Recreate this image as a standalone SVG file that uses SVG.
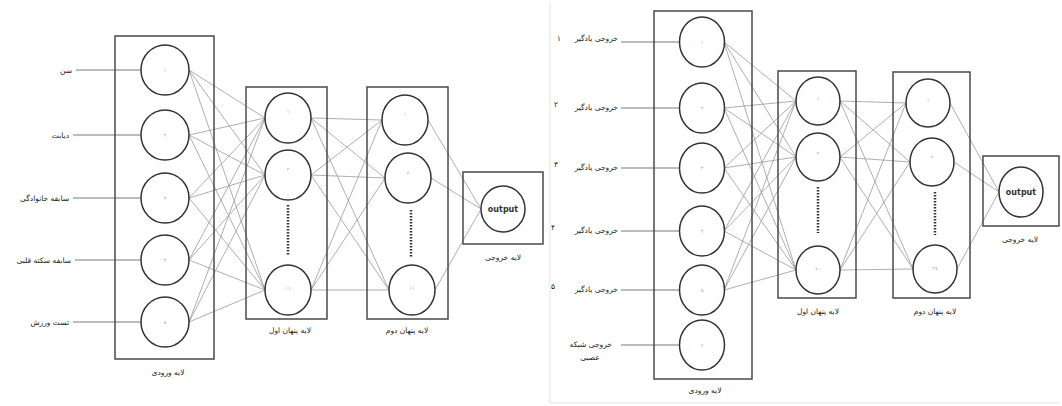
<svg xmlns="http://www.w3.org/2000/svg" width="1062" height="406" viewBox="0 0 1062 406">
<style>
.bg{fill:#ffffff}
.box{fill:none;stroke:#4a4a4a;stroke-width:1.5}
.node{fill:#ffffff;stroke:#333333;stroke-width:1.5}
.c line{stroke:#9a9a9a;stroke-width:0.8}
.in{stroke:#555555;stroke-width:0.8}
.dots{stroke:#333333;stroke-width:2.5;stroke-dasharray:1.5 1.5}
.lbl{font-family:"DejaVu Sans",sans-serif;font-size:7.5px;fill:#222222}
.cap{font-family:"DejaVu Sans",sans-serif;font-size:7.5px;fill:#222222;text-anchor:middle}
.num{font-family:"DejaVu Sans",sans-serif;font-size:5px;fill:#aaaaaa;text-anchor:middle}
.out{font-family:"DejaVu Sans",sans-serif;font-size:8px;font-weight:bold;fill:#333333;text-anchor:middle}
.frame{fill:none;stroke:#e4e4e4;stroke-width:1}
</style>
<rect class="bg" x="0" y="0" width="1062" height="406"/>
<path class="frame" d="M550 4 V403 H1060"/>

<g id="connectors" class="c">
<line x1="189" y1="70" x2="265" y2="118"/><line x1="189" y1="70" x2="265" y2="175"/><line x1="189" y1="70" x2="265" y2="290"/>
<line x1="189" y1="135" x2="265" y2="118"/><line x1="189" y1="135" x2="265" y2="175"/><line x1="189" y1="135" x2="265" y2="290"/>
<line x1="189" y1="198" x2="265" y2="118"/><line x1="189" y1="198" x2="265" y2="175"/><line x1="189" y1="198" x2="265" y2="290"/>
<line x1="189" y1="260" x2="265" y2="118"/><line x1="189" y1="260" x2="265" y2="175"/><line x1="189" y1="260" x2="265" y2="290"/>
<line x1="189" y1="322" x2="265" y2="118"/><line x1="189" y1="322" x2="265" y2="175"/><line x1="189" y1="322" x2="265" y2="290"/>
<line x1="311" y1="118" x2="382" y2="120"/><line x1="311" y1="118" x2="385" y2="178"/><line x1="311" y1="118" x2="389" y2="290"/>
<line x1="311" y1="175" x2="382" y2="120"/><line x1="311" y1="175" x2="385" y2="178"/><line x1="311" y1="175" x2="389" y2="290"/>
<line x1="311" y1="290" x2="382" y2="120"/><line x1="311" y1="290" x2="385" y2="178"/><line x1="311" y1="290" x2="389" y2="290"/>
<line x1="428" y1="120" x2="481" y2="209"/><line x1="431" y1="178" x2="481" y2="209"/><line x1="435" y1="290" x2="481" y2="209"/>
<line x1="724" y1="42" x2="796" y2="101"/><line x1="724" y1="42" x2="796" y2="157"/><line x1="724" y1="42" x2="796" y2="270"/>
<line x1="724" y1="108" x2="796" y2="101"/><line x1="724" y1="108" x2="796" y2="157"/><line x1="724" y1="108" x2="796" y2="270"/>
<line x1="724" y1="168" x2="796" y2="101"/><line x1="724" y1="168" x2="796" y2="157"/><line x1="724" y1="168" x2="796" y2="270"/>
<line x1="724" y1="231" x2="796" y2="101"/><line x1="724" y1="231" x2="796" y2="157"/><line x1="724" y1="231" x2="796" y2="270"/>
<line x1="724" y1="290" x2="796" y2="101"/><line x1="724" y1="290" x2="796" y2="157"/><line x1="724" y1="290" x2="796" y2="270"/>
<line x1="840" y1="101" x2="906" y2="103"/><line x1="840" y1="101" x2="910" y2="162"/><line x1="840" y1="101" x2="913" y2="269"/>
<line x1="840" y1="157" x2="906" y2="103"/><line x1="840" y1="157" x2="910" y2="162"/><line x1="840" y1="157" x2="913" y2="269"/>
<line x1="840" y1="270" x2="906" y2="103"/><line x1="840" y1="270" x2="910" y2="162"/><line x1="840" y1="270" x2="913" y2="269"/>
<line x1="950" y1="103" x2="999" y2="192"/><line x1="954" y1="162" x2="999" y2="192"/><line x1="957" y1="269" x2="999" y2="192"/>
</g>

<g id="left-inputs">
<line class="in" x1="76" y1="70" x2="141" y2="70"/>
<line class="in" x1="73" y1="135" x2="141" y2="135"/>
<line class="in" x1="73" y1="198" x2="141" y2="198"/>
<line class="in" x1="75" y1="260" x2="141" y2="260"/>
<line class="in" x1="73" y1="322" x2="141" y2="322"/>
<text class="lbl" x="72" y="73" text-anchor="end">سن</text>
<text class="lbl" x="69" y="138" text-anchor="end">دیابت</text>
<text class="lbl" x="69" y="201" text-anchor="end">سابقه خانوادگی</text>
<text class="lbl" x="71" y="263" text-anchor="end">سابقه سکته قلبی</text>
<text class="lbl" x="69" y="325" text-anchor="end">تست ورزش</text>
</g>
<g id="left-input-layer">
<rect class="box" x="115" y="36" width="99" height="323"/>
<ellipse class="node" cx="165" cy="70" rx="24" ry="25"/><text class="num" x="165" y="72">۱</text>
<ellipse class="node" cx="165" cy="135" rx="24" ry="25"/><text class="num" x="165" y="137">۲</text>
<ellipse class="node" cx="165" cy="198" rx="24" ry="25"/><text class="num" x="165" y="200">۳</text>
<ellipse class="node" cx="165" cy="260" rx="24" ry="25"/><text class="num" x="165" y="262">۴</text>
<ellipse class="node" cx="165" cy="322" rx="24" ry="25"/><text class="num" x="165" y="324">۵</text>
<text class="cap" x="168" y="375">لایه ورودی</text>
</g>
<g id="left-hidden1">
<rect class="box" x="246" y="87" width="81" height="232"/>
<ellipse class="node" cx="288" cy="118" rx="23" ry="25"/><text class="num" x="288" y="113">۱</text>
<ellipse class="node" cx="288" cy="175" rx="23" ry="25"/><text class="num" x="288" y="171">۲</text>
<line class="dots" x1="288" y1="205" x2="288" y2="255"/>
<ellipse class="node" cx="288" cy="290" rx="23" ry="25"/><text class="num" x="288" y="290">۱۱</text>
<text class="cap" x="290" y="333">لایه پنهان اول</text>
</g>
<g id="left-hidden2">
<rect class="box" x="367" y="87" width="81" height="232"/>
<ellipse class="node" cx="405" cy="120" rx="23" ry="25"/><text class="num" x="405" y="116">۱</text>
<ellipse class="node" cx="408" cy="178" rx="23" ry="25"/><text class="num" x="408" y="175">۲</text>
<line class="dots" x1="411" y1="210" x2="411" y2="258"/>
<ellipse class="node" cx="412" cy="290" rx="23" ry="25"/><text class="num" x="412" y="290">۱۱</text>
<text class="cap" x="407" y="333">لایه پنهان دوم</text>
</g>
<g id="left-output">
<rect class="box" x="463" y="172" width="80" height="72"/>
<ellipse class="node" cx="503" cy="209" rx="22" ry="23"/>
<text class="out" x="503" y="212">output</text>
<text class="cap" x="503" y="260">لایه خروجی</text>
</g>

<g id="right-inputs">
<line class="in" x1="621" y1="42" x2="680" y2="42"/>
<line class="in" x1="621" y1="108" x2="680" y2="108"/>
<line class="in" x1="621" y1="168" x2="680" y2="168"/>
<line class="in" x1="621" y1="231" x2="680" y2="231"/>
<line class="in" x1="621" y1="290" x2="680" y2="290"/>
<line class="in" x1="621" y1="345" x2="680" y2="345"/>
<text class="lbl" x="618" y="41" text-anchor="end">خروجی یادگیر</text><text class="lbl" x="559" y="41" text-anchor="middle">۱</text>
<text class="lbl" x="618" y="110" text-anchor="end">خروجی یادگیر</text><text class="lbl" x="556" y="107" text-anchor="middle">۲</text>
<text class="lbl" x="618" y="170" text-anchor="end">خروجی یادگیر</text><text class="lbl" x="556" y="167" text-anchor="middle">۳</text>
<text class="lbl" x="618" y="233" text-anchor="end">خروجی یادگیر</text><text class="lbl" x="553" y="230" text-anchor="middle">۴</text>
<text class="lbl" x="618" y="292" text-anchor="end">خروجی یادگیر</text><text class="lbl" x="553" y="289" text-anchor="middle">۵</text>
<text class="lbl" x="612" y="347" text-anchor="end">خروجی شبکه</text>
<text class="lbl" x="590" y="360" text-anchor="middle">عصبی</text>
</g>
<g id="right-input-layer">
<rect class="box" x="654" y="11" width="98" height="368"/>
<ellipse class="node" cx="702" cy="42" rx="22.5" ry="25"/><text class="num" x="702" y="44">۱</text>
<ellipse class="node" cx="702" cy="108" rx="22.5" ry="25"/><text class="num" x="702" y="110">۲</text>
<ellipse class="node" cx="702" cy="168" rx="22.5" ry="25"/><text class="num" x="702" y="170">۳</text>
<ellipse class="node" cx="702" cy="231" rx="22.5" ry="25"/><text class="num" x="702" y="233">۴</text>
<ellipse class="node" cx="702" cy="290" rx="22.5" ry="25"/><text class="num" x="702" y="292">۵</text>
<ellipse class="node" cx="702" cy="345" rx="22.5" ry="25"/><text class="num" x="702" y="347">۶</text>
<text class="cap" x="705" y="393">لایه ورودی</text>
</g>
<g id="right-hidden1">
<rect class="box" x="778" y="71" width="78" height="227"/>
<ellipse class="node" cx="818" cy="101" rx="22" ry="24"/><text class="num" x="818" y="100">۱</text>
<ellipse class="node" cx="818" cy="157" rx="22" ry="24"/><text class="num" x="818" y="155">۲</text>
<line class="dots" x1="818" y1="187" x2="818" y2="233"/>
<ellipse class="node" cx="818" cy="270" rx="22" ry="24"/><text class="num" x="818" y="271">۴۰</text>
<text class="cap" x="818" y="314">لایه پنهان اول</text>
</g>
<g id="right-hidden2">
<rect class="box" x="893" y="72" width="77" height="226"/>
<ellipse class="node" cx="928" cy="103" rx="22" ry="24"/><text class="num" x="928" y="102">۱</text>
<ellipse class="node" cx="932" cy="162" rx="22" ry="24"/><text class="num" x="932" y="159">۲</text>
<line class="dots" x1="935" y1="192" x2="935" y2="235"/>
<ellipse class="node" cx="935" cy="269" rx="22" ry="24"/><text class="num" x="935" y="270">۲۷</text>
<text class="cap" x="935" y="314">لایه پنهان دوم</text>
</g>
<g id="right-output">
<rect class="box" x="983" y="156" width="76" height="70"/>
<ellipse class="node" cx="1021" cy="192" rx="22" ry="25"/>
<text class="out" x="1021" y="195">output</text>
<text class="cap" x="1020" y="242">لایه خروجی</text>
</g>
</svg>
